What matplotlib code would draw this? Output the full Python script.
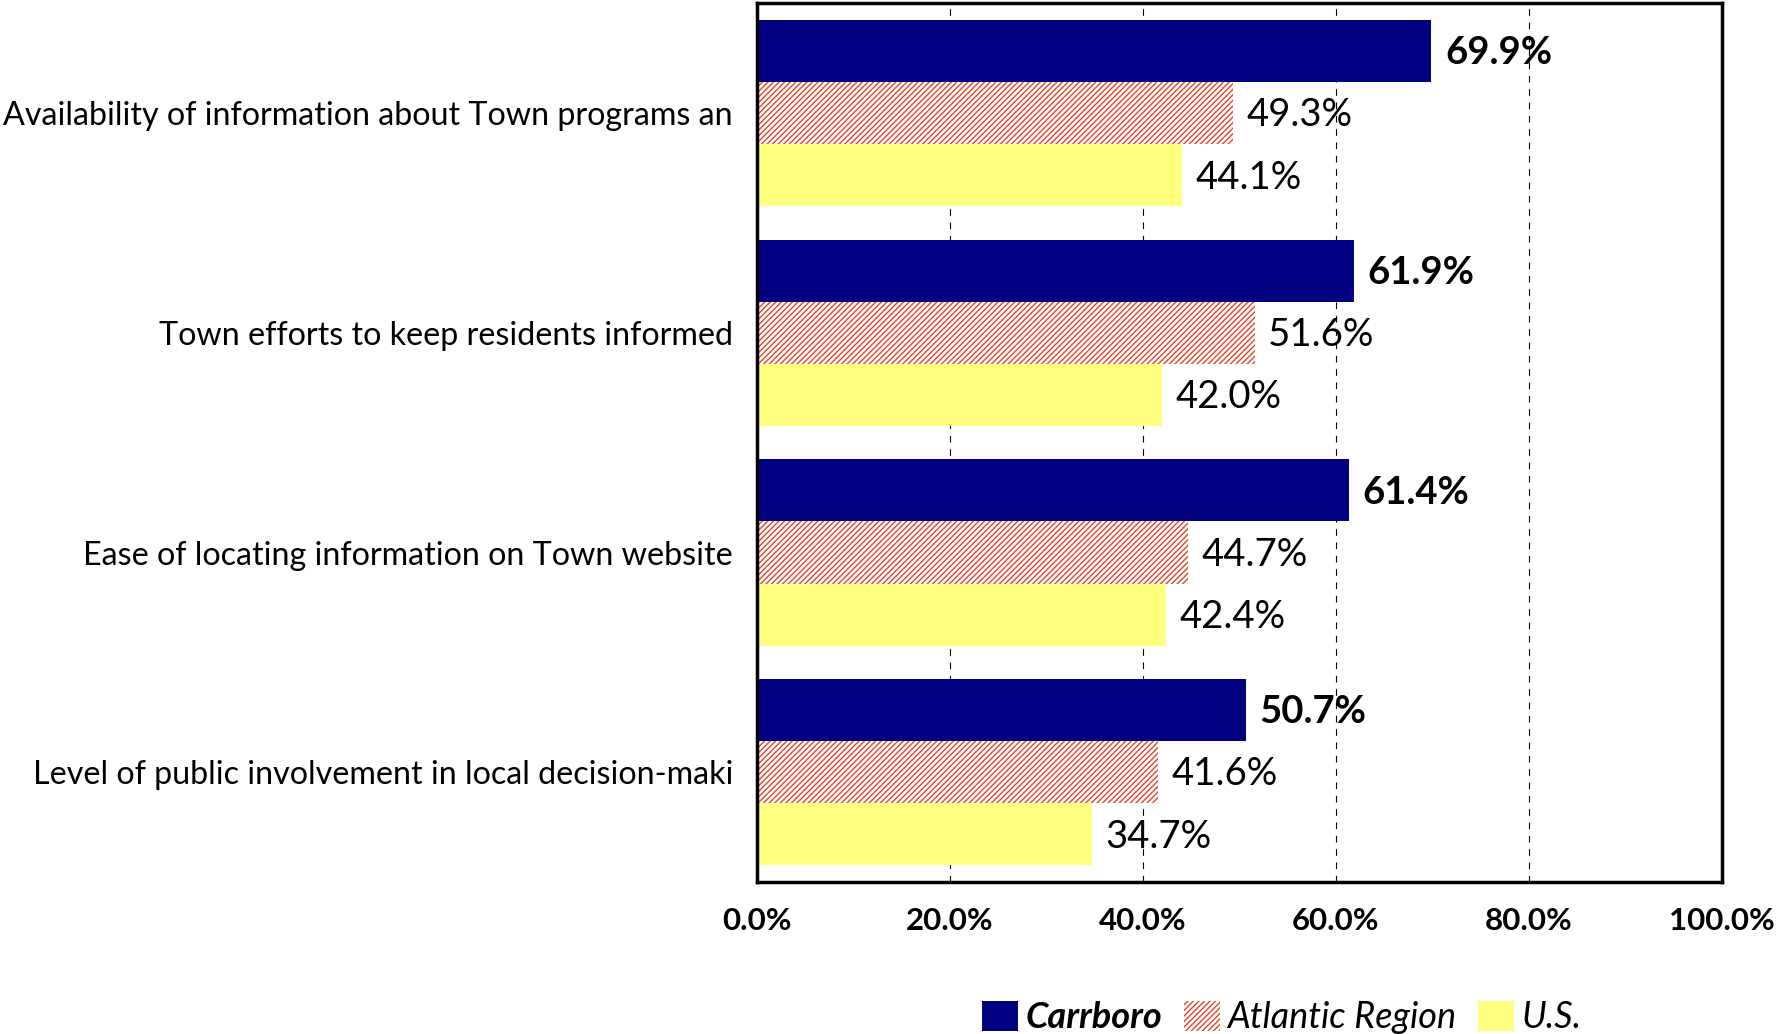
import matplotlib.pyplot as plt
import numpy as np

plt.rcParams['font.family'] = ['Lato', 'DejaVu Sans']
plt.rcParams['hatch.linewidth'] = 1.0

categories = [
    'Availability of information about Town programs an',
    'Town efforts to keep residents informed',
    'Ease of locating information on Town website',
    'Level of public involvement in local decision-maki',
]
carrboro = [69.9, 61.9, 61.4, 50.7]
atlantic = [49.3, 51.6, 44.7, 41.6]
us = [44.1, 42.0, 42.4, 34.7]
xticks = [0, 20, 40, 60, 80, 100]

fig = plt.figure(figsize=(17.76, 10.34), dpi=100)
ax = fig.add_axes([0.426, 0.147, 0.5436, 0.8497])

y = np.arange(len(categories))[::-1].astype(float)
h = 0.283

b1 = ax.barh(y + h, carrboro, height=h, color='#000080', label='Carrboro')
b2 = ax.barh(y, atlantic, height=h, color='white', edgecolor='#E0452B',
             hatch='//////', linewidth=0, label='Atlantic Region')
b3 = ax.barh(y - h, us, height=h, color='#FFFF80', label='U.S.')

for bars, vals, bold in [(b1, carrboro, True), (b2, atlantic, False), (b3, us, False)]:
    for bar, v in zip(bars, vals):
        ax.text(v + 1.4, bar.get_y() + bar.get_height() / 2 - 0.01, f'{v:.1f}%',
                va='center', ha='left', fontsize=27.5,
                fontweight='bold' if bold else 'normal')

ax.set_xlim(0, 100)
ax.set_ylim(-0.5, 3.5)
ax.set_xticks(xticks)
ax.set_xticklabels([f'{t:.1f}%' for t in xticks], fontsize=22.5, fontweight='bold')
ax.set_yticks(y)
ax.set_yticklabels(categories, fontsize=23.2)
ax.tick_params(axis='y', length=0, pad=17)
ax.tick_params(axis='x', length=0, pad=18)
ax.xaxis.grid(True, linestyle=(0, (6, 6)), color='black', linewidth=0.8)
ax.set_axisbelow(True)
for s in ax.spines.values():
    s.set_linewidth(2.5)

leg = fig.legend(handles=[b1, b2, b3], loc='center', bbox_to_anchor=(0.7217, 0.016),
                 ncol=3, frameon=False, fontsize=26, handlelength=1.0,
                 handleheight=0.9, columnspacing=0.6, handletextpad=0.2)
for t in leg.get_texts():
    t.set_fontstyle('italic')
leg.get_texts()[0].set_fontweight('bold')

fig.savefig('out.png', dpi=100)
